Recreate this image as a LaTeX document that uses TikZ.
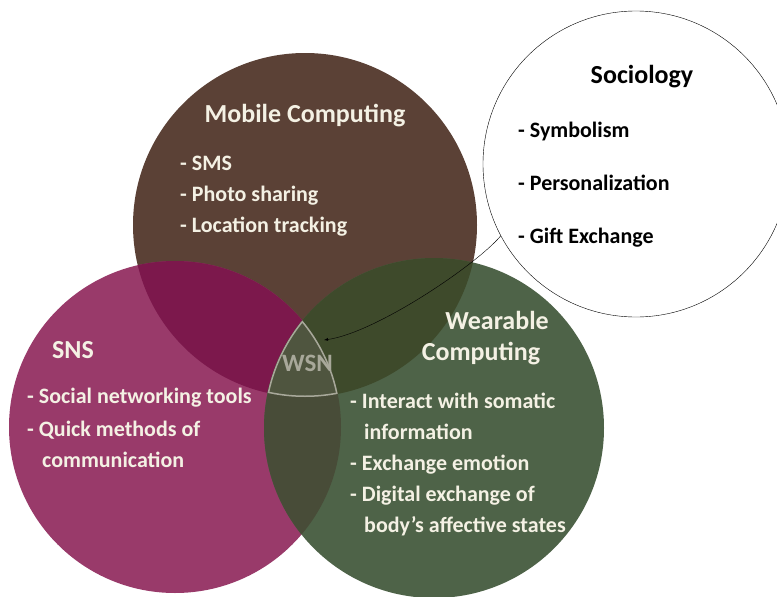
\documentclass[tikz,border=0pt]{standalone}
\usepackage{fontspec}
\setmainfont{Carlito}
\usetikzlibrary{arrows}

\definecolor{mobcol}{RGB}{91,65,54}
\definecolor{snscol}{RGB}{153,58,106}
\definecolor{wearcol}{RGB}{78,99,72}
\definecolor{mobsns}{RGB}{124,24,76}
\definecolor{mobwear}{RGB}{62,74,43}
\definecolor{snswear}{RGB}{72,76,56}
\definecolor{wsncol}{RGB}{79,85,63}
\definecolor{wsnline}{RGB}{168,168,154}
\definecolor{cream}{RGB}{244,241,228}

\tikzstyle{head} = [text=cream, inner sep=0pt, anchor=base,
    font=\bfseries\fontsize{26}{30}\selectfont]
\tikzstyle{item} = [text=cream, inner sep=0pt, anchor=base west,
    font=\bfseries\fontsize{22}{26}\selectfont]

\begin{document}
\begin{tikzpicture}[x=1pt, y=-1pt,
socitem/.style = {item, text=black},
sochead/.style = {head, text=black},
]
\clip (0,0) rectangle (777,597);
\fill[white] (0,0) rectangle (777,597);

\coordinate (mob) at (305,225);
\coordinate (sns) at (175,427);
\coordinate (wear) at (434,428);

% the three circles and their overlaps
\fill[mobcol] (mob) circle (172);
\fill[snscol] (sns) circle (166);
\fill[wearcol] (wear) circle (170);
\begin{scope}
  \clip (mob) circle (172);
  \fill[mobsns] (sns) circle (166);
  \fill[mobwear] (wear) circle (170);
\end{scope}
\begin{scope}
  \clip (sns) circle (166);
  \fill[snswear] (wear) circle (170);
\end{scope}
\begin{scope}
  \clip (sns) circle (166);
  \clip (wear) circle (170);
  \clip (mob) circle (172);
  \fill[wsncol] (mob) circle (172);
  \draw[wsnline, line width=3] (mob) circle (172) (sns) circle (166) (wear) circle (170);
\end{scope}

\node[head, text=wsnline, font=\bfseries\fontsize{25}{30}\selectfont] (wsn) at (307.5,371.7) {WSN};
\coordinate (wsntip) at (324,340);

% Mobile Computing
\node[head] (mobtitle) at (305,122.7) {Mobile Computing};
\node[item] (sms) at (180,170) {- SMS};
\node[item] (photo) at (180,201) {- Photo sharing};
\node[item] (loc) at (180,232.7) {- Location tracking};

% SNS
\node[head, anchor=base west] (snstitle) at (52,358) {SNS};
\node[item] (tools) at (27,403) {- Social networking tools};
\node[item] (quick) at (27,436) {- Quick methods of};
\node[item] (comm) at (42,467) {communication};

% Wearable Computing
\node[head] (weartitle) at (497,329) {Wearable};
\node[head] (weartitleb) at (481,360) {Computing};
\node[item] (somatic) at (350,408.5) {- Interact with somatic};
\node[item] (info) at (364,439.5) {information};
\node[item] (emotion) at (350,470) {- Exchange emotion};
\node[item] (digital) at (350,501) {- Digital exchange of};
\node[item] (body) at (364,532.5) {body's affective states};

% Sociology
\node[circle, draw, thin, fill=white, minimum size=306, inner sep=0pt] (soc) at (636,164) {};
\node[sochead] (soctitle) at (642,83) {Sociology};
\node[socitem] (symb) at (518,137) {- Symbolism};
\node[socitem] (pers) at (518,190) {- Personalization};
\node[socitem] (gift) at (518,243) {- Gift Exchange};

\draw[-latex, thin] (soc.208) .. controls (475,266) and (375,333) .. (wsntip);
\end{tikzpicture}
\end{document}
